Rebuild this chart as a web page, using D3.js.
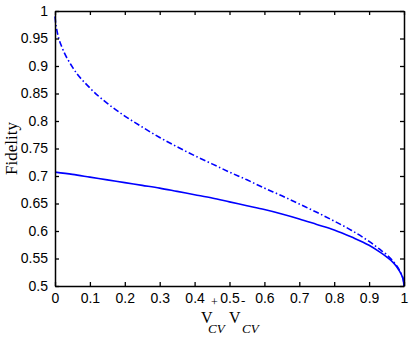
<!DOCTYPE html>
<html>
<head>
<meta charset="utf-8">
<script src="https://cdn.jsdelivr.net/npm/d3@7"></script>
<style>
body{margin:0;background:#fff;}
svg{display:block;}
.tick text{font-family:"Liberation Sans",Arial,sans-serif;font-size:14px;fill:#000;}
</style>
</head>
<body>
<div id="chart"></div>
<script>
// x values (V+CV V-CV) and fidelity
var xSolid = [0, 0.05, 0.1, 0.15, 0.2, 0.25, 0.3, 0.35, 0.4, 0.45, 0.5, 0.55, 0.6, 0.65, 0.7, 0.75, 0.8, 0.85, 0.9, 0.93, 0.95, 0.97, 0.98, 0.99, 0.995, 0.998, 1];
var fSolid = [0.707, 0.703, 0.698, 0.693, 0.688, 0.683, 0.678, 0.672, 0.666, 0.660, 0.653, 0.646, 0.639, 0.631, 0.622, 0.612, 0.602, 0.589, 0.574, 0.562, 0.553, 0.542, 0.534, 0.524, 0.517, 0.511, 0.5];
var xDash = [0, 0.002, 0.005, 0.01, 0.02, 0.05, 0.1, 0.15, 0.2, 0.25, 0.3, 0.35, 0.4, 0.45, 0.5, 0.55, 0.6, 0.65, 0.7, 0.75, 0.8, 0.85, 0.9, 0.93, 0.95, 0.97, 0.98, 0.99, 0.995, 0.998, 1];
var fDash = [0.99, 0.978, 0.966, 0.952, 0.934, 0.898, 0.860, 0.832, 0.809, 0.789, 0.770, 0.753, 0.737, 0.722, 0.707, 0.693, 0.678, 0.664, 0.649, 0.634, 0.618, 0.601, 0.581, 0.567, 0.557, 0.544, 0.536, 0.525, 0.518, 0.511, 0.5];
var xTicks = [0, 0.1, 0.2, 0.3, 0.4, 0.5, 0.6, 0.7, 0.8, 0.9, 1];
var yTicks = [0.5, 0.55, 0.6, 0.65, 0.7, 0.75, 0.8, 0.85, 0.9, 0.95, 1];

var width = 409, height = 337;
var mLeft = 55, mRight = 404, mTop = 11, mBottom = 286;

var svg = d3.select("#chart").append("svg")
	.attr("width", width)
	.attr("height", height);

var x = d3.scaleLinear().domain([0, 1]).range([mLeft, mRight]);
var y = d3.scaleLinear().domain([0.5, 1]).range([mBottom, mTop]);

var fmt = function(d){ return String(+d.toFixed(2)); };

// curves
var line = d3.line()
	.x(function(d){ return x(d[0]); })
	.y(function(d){ return y(d[1]); })
	.curve(d3.curveMonotoneX);

svg.append("path")
	.datum(xSolid.map(function(v, i){ return [v, fSolid[i]]; }))
	.attr("d", line)
	.attr("fill", "none")
	.attr("stroke", "#0000ff")
	.attr("stroke-width", 1.6);

svg.append("path")
	.datum(xDash.map(function(v, i){ return [v, fDash[i]]; }))
	.attr("d", line)
	.attr("fill", "none")
	.attr("stroke", "#0000ff")
	.attr("stroke-width", 1.6)
	.attr("stroke-dasharray", "6,2.5,1.5,2.5");

// axes, ticks pointing inward like matlab
svg.append("g")
	.attr("transform", "translate(0," + mBottom + ")")
	.call(d3.axisBottom(x).tickValues(xTicks).tickSizeInner(-4).tickSizeOuter(0).tickPadding(7).tickFormat(fmt));
svg.append("g")
	.attr("transform", "translate(0," + mTop + ")")
	.call(d3.axisTop(x).tickValues(xTicks).tickSizeInner(-4).tickSizeOuter(0).tickFormat(""));
svg.append("g")
	.attr("transform", "translate(" + mLeft + ",0)")
	.call(d3.axisLeft(y).tickValues(yTicks).tickSizeInner(-4).tickSizeOuter(0).tickPadding(7).tickFormat(fmt));
svg.append("g")
	.attr("transform", "translate(" + mRight + ",0)")
	.call(d3.axisRight(y).tickValues(yTicks).tickSizeInner(-4).tickSizeOuter(0).tickFormat(""));

svg.selectAll(".domain").attr("stroke", "#000").attr("stroke-width", 1.5);
svg.selectAll(".tick line").attr("stroke", "#000").attr("stroke-width", 1.3);

// labels
svg.append("text")
	.attr("transform", "translate(17," + ((mTop + mBottom) / 2) + ") rotate(-90)")
	.attr("text-anchor", "middle")
	.style("font-family", "'Liberation Serif','Times New Roman',serif")
	.style("font-size", "17px")
	.text("Fidelity");

var xl = svg.append("g").style("font-family", "'Liberation Serif','Times New Roman',serif");
xl.append("text").attr("x", 201).attr("y", 323).style("font-size", "16px").text("V");
xl.append("text").attr("x", 211).attr("y", 306).style("font-size", "12px").text("+");
xl.append("text").attr("x", 208).attr("y", 333).style("font-size", "13px").style("font-style", "italic").text("CV");
xl.append("text").attr("x", 229).attr("y", 323).style("font-size", "16px").text("V");
xl.append("text").attr("x", 241).attr("y", 305).style("font-size", "13px").text("-");
xl.append("text").attr("x", 242).attr("y", 333).style("font-size", "13px").style("font-style", "italic").text("CV");
</script>
</body>
</html>
